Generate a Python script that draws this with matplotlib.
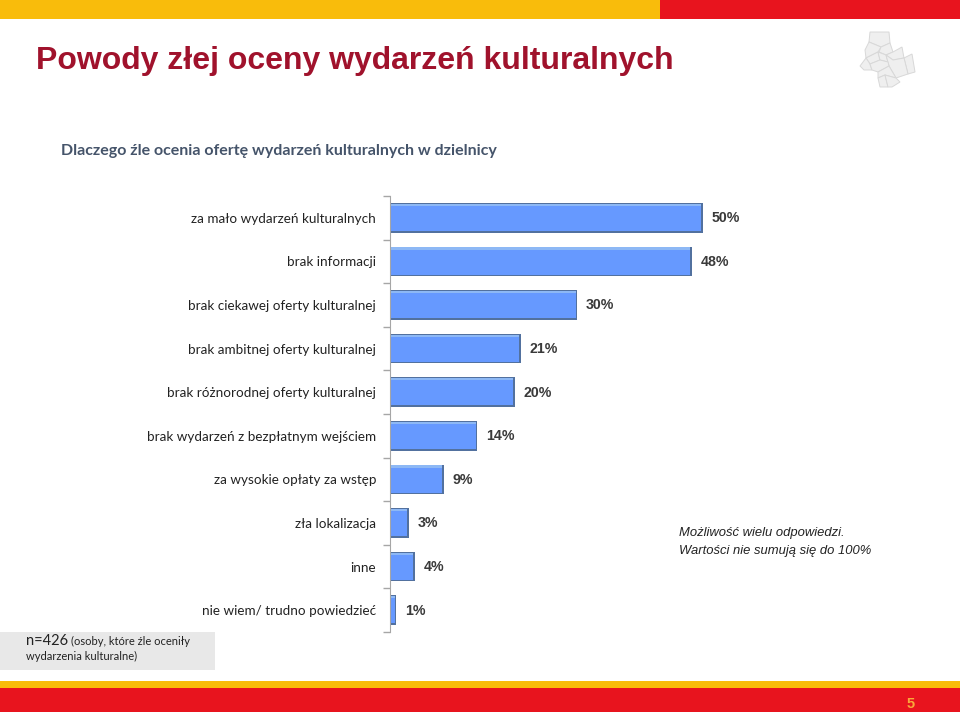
import matplotlib
matplotlib.use("Agg")
import matplotlib.pyplot as plt
from matplotlib.patches import Rectangle, Polygon

categories = ["za mało wydarzeń kulturalnych", "brak informacji", "brak ciekawej oferty kulturalnej",
              "brak ambitnej oferty kulturalnej", "brak różnorodnej oferty kulturalnej",
              "brak wydarzeń z bezpłatnym wejściem", "za wysokie opłaty za wstęp", "zła lokalizacja",
              "inne", "nie wiem/ trudno powiedzieć"]
values = [50, 48, 30, 21, 20, 14, 9, 3, 4, 1]
# some bars are drawn a bit off their label in the original
bar_lengths = [50.1, 48.4, 30, 21, 20, 14, 8.6, 3, 4, 1]

RED = "#E8141E"
YELLOW = "#F9BC0B"
W, H = 960, 712

fig = plt.figure(figsize=(9.6, 7.12), dpi=100)
bg = fig.add_axes([0, 0, 1, 1])
bg.set_xlim(0, W)
bg.set_ylim(H, 0)
bg.axis("off")

# top and bottom bands
bg.add_patch(Rectangle((0, 0), 660, 19, color=YELLOW, lw=0))
bg.add_patch(Rectangle((660, 0), 300, 19, color=RED, lw=0))
bg.add_patch(Rectangle((0, 681), 960, 7, color=YELLOW, lw=0))
bg.add_patch(Rectangle((0, 688), 960, 24, color=RED, lw=0))
bg.add_patch(Rectangle((0, 632), 215, 38, color="#E8E8E8", lw=0))

# district map
districts = [
    [(870, 32), (889, 32), (890, 43), (881, 47), (869, 42)],
    [(865, 50), (869, 42), (881, 47), (878, 52), (866, 58)],
    [(881, 47), (890, 43), (893, 52), (886, 55), (879, 52)],
    [(893, 52), (902, 47), (904, 58), (893, 60), (886, 55)],
    [(904, 58), (912, 54), (915, 72), (908, 74)],
    [(866, 58), (878, 52), (880, 60), (870, 64)],
    [(878, 52), (886, 55), (888, 62), (880, 60)],
    [(886, 55), (893, 60), (904, 58), (908, 74), (896, 78), (889, 66)],
    [(860, 66), (866, 58), (870, 64), (872, 70), (864, 70)],
    [(870, 64), (880, 60), (888, 62), (889, 66), (878, 72), (872, 70)],
    [(878, 72), (889, 66), (896, 78), (885, 75), (878, 78)],
    [(878, 78), (885, 75), (888, 87), (880, 87)],
    [(885, 75), (896, 78), (900, 82), (892, 87), (888, 87)],
]
for d in districts:
    bg.add_patch(Polygon(d, closed=True, fc="#EFEFEF", ec="#D8D8D8", lw=0.7))

bg.text(36, 61, "Powody złej oceny wydarzeń kulturalnych", family="Liberation Sans", weight="bold",
        fontsize=23, color="#A0122C", va="center", ha="left")
bg.text(61, 150.5, "Dlaczego źle ocenia ofertę wydarzeń kulturalnych w dzielnicy", family="Lato", weight="bold",
        fontsize=11.5, color="#45546A", va="center", ha="left")
bg.text(679, 533, "Możliwość wielu odpowiedzi.", family="Liberation Sans", style="italic",
        fontsize=9.4, color="#222222", va="center")
bg.text(679, 551, "Wartości nie sumują się do 100%", family="Liberation Sans", style="italic",
        fontsize=9.4, color="#222222", va="center")
bg.text(26, 641, "n=426", family="Lato", fontsize=10.5, color="#222222", va="center")
bg.text(71, 641, "(osoby, które źle oceniły", family="Lato", fontsize=8, color="#222222", va="center")
bg.text(26, 656, "wydarzenia kulturalne)", family="Lato", fontsize=8, color="#222222", va="center")
bg.text(911, 704, "5", family="Liberation Sans", weight="bold", fontsize=10.5, color="#F9A83A",
        va="center", ha="center")

# chart, the axes box sits on the plot area in pixels
x0, x_end = 390, 960
y_top, y_bot = 196, 632
ax = fig.add_axes([x0 / W, 1 - y_bot / H, (x_end - x0) / W, (y_bot - y_top) / H])
ax.patch.set_alpha(0)
ax.set_xlim(0, (x_end - x0) / 6.24)
ax.set_ylim(len(values) - 0.5, -0.5)
pos = range(len(values))

ax.barh(pos, bar_lengths, height=0.68, color="#52719F", lw=0)
ax.barh(pos, [v - 0.25 for v in bar_lengths], height=0.61, color="#6699FF", lw=0)
ax.barh([p - 0.295 for p in pos], [v - 0.25 for v in bar_lengths], height=0.05, color="#8DB8F5", lw=0)

for p, v, ln in zip(pos, values, bar_lengths):
    ax.text(ln + 1.4, p + 0.01, f"{v}%", family="Liberation Sans", weight="bold", fontsize=10.2,
            color="#3A3A3A", va="center", ha="left")

ax.set_yticks([i - 0.5 for i in range(len(values) + 1)])
ax.set_yticklabels([])
ax.set_yticks(list(pos), categories, minor=True, family="Lato", fontsize=9.7, color="#222222")
ax.tick_params(axis="y", which="major", length=5, width=1, color="#A6A6A6", direction="out")
ax.tick_params(axis="y", which="minor", length=0, pad=10)
ax.set_xticks([])
for s in ["top", "right", "bottom"]:
    ax.spines[s].set_visible(False)
ax.spines["left"].set_color("#A6A6A6")

fig.savefig("out.png", dpi=100)
